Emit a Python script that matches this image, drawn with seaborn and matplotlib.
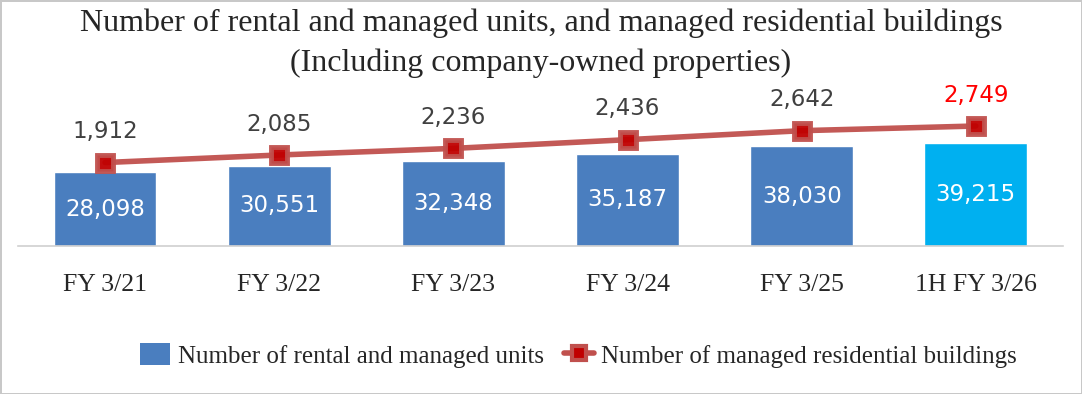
import numpy as np
import pandas as pd
import seaborn as sns
import matplotlib.pyplot as plt
from matplotlib.patches import Patch
from matplotlib.lines import Line2D

periods = ['FY 3/21', 'FY 3/22', 'FY 3/23', 'FY 3/24', 'FY 3/25', '1H FY 3/26']
units = [28098, 30551, 32348, 35187, 38030, 39215]
buildings = [1912, 2085, 2236, 2436, 2642, 2749]
bar_colors = ['#4a7ebf'] * 5 + ['#00b0f0']

sns.set_style('white')
plt.rcParams['font.family'] = ['Liberation Serif', 'DejaVu Serif']

df = pd.DataFrame({'period': periods, 'units': units, 'buildings': buildings})

fig = plt.figure(figsize=(10.82, 3.94), dpi=100)
fig.patch.set_edgecolor('#c8c8c8')
fig.patch.set_linewidth(2)
ax = fig.add_axes([0.0166, 0.3756, 0.9658, 0.396])

sns.barplot(data=df, x='period', y='units', hue='period', palette=bar_colors,
            width=0.59, legend=False, ax=ax, saturation=1)
ax.set_xlim(-0.5, 5.5)
ax.set_ylim(0, 59400)
for c in ax.containers:
    ax.bar_label(c, labels=[f'{int(round(v)):,}' for v in c.datavalues],
                 label_type='center', color='white', fontsize=16.5,
                 family='DejaVu Sans')

ax2 = ax.twinx()
sns.lineplot(x=np.arange(len(periods)), y=df['buildings'], ax=ax2, color='#c0504d',
             linewidth=4, marker='s', markersize=12, markerfacecolor='#c00000',
             markeredgecolor='#c0504d', markeredgewidth=3.5, alpha=0.95)
ax2.set_ylim(0, 3574)
for i, v in enumerate(buildings):
    ax2.annotate(f'{v:,}', (i, v), xytext=(0, 14), textcoords='offset points',
                 ha='center', va='bottom', fontsize=16.5, family='DejaVu Sans',
                 color='red' if i == len(buildings) - 1 else '#404040')

for a in (ax, ax2):
    a.set_xlabel('')
    a.set_ylabel('')
    a.set_yticks([])
    for s in ['top', 'left', 'right']:
        a.spines[s].set_visible(False)
ax2.spines['bottom'].set_visible(False)
ax.spines['bottom'].set_color('#d0d0d0')
ax.spines['bottom'].set_linewidth(1.2)

ax.set_xticks(np.arange(len(periods)))
ax.set_xticklabels(periods, fontsize=18.5)
ax.tick_params(axis='x', length=0, pad=20)
ax.set_xticks(np.arange(-0.5, 6, 1), minor=True)
ax.tick_params(axis='x', which='minor', length=8, color='#d0d0d0', width=1.2)

fig.text(0.5, 0.942, 'Number of rental and managed units, and managed residential buildings',
         ha='center', va='center', fontsize=23)
fig.text(0.5, 0.84, '(Including company-owned properties)',
         ha='center', va='center', fontsize=23)

handles = [Patch(facecolor='#4a7ebf', edgecolor='none'),
           Line2D([0], [0], color='#c0504d', linewidth=4, marker='s', markersize=10,
                  markerfacecolor='#c00000', markeredgecolor='#c0504d', markeredgewidth=3)]
fig.legend(handles, ['Number of rental and managed units',
                     'Number of managed residential buildings'],
           loc='center', bbox_to_anchor=(0.535, 0.098), ncol=2, frameon=False,
           fontsize=18, handlelength=1.2, handleheight=1.0, handletextpad=0.3,
           columnspacing=0.8)

fig.savefig('out.png', dpi=100, edgecolor=fig.get_edgecolor())
